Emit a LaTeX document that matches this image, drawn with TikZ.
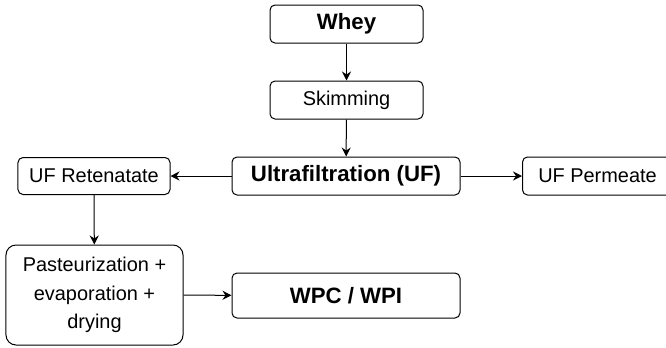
\documentclass[tikz,border=0pt]{standalone}
\usepackage{fontspec}
\setmainfont{Liberation Sans}
\usetikzlibrary{arrows.meta}
\tikzset{
  stepbox/.style={draw=black, line width=1bp, rounded corners=5bp, align=center,
    inner sep=0pt, fill=white},
  plain/.style={font=\fontsize{20}{24}\selectfont},
  strong/.style={font=\fontsize{22.3}{27}\selectfont\bfseries},
  flow/.style={draw=black, line width=1bp,
    -{Stealth[length=9bp,width=9bp,inset=3bp]}},
}
\begin{document}
\begin{tikzpicture}[x=1bp,y=-1bp]
\useasboundingbox (0,0) rectangle (666,347);
\clip (0,0) rectangle (666,347);
\node[stepbox, strong, minimum width=153bp, minimum height=38bp] (whey) at (346.5,24) {Whey};
\node[stepbox, plain, minimum width=153bp, minimum height=38bp] (skim) at (346.5,100) {Skimming};
\node[stepbox, strong, minimum width=228bp, minimum height=38bp] (uf) at (346,176) {Ultrafiltration (UF)};
\node[stepbox, plain, minimum width=152bp, minimum height=37bp] (ret) at (94,176) {UF Retenatate};
\node[stepbox, plain, minimum width=150bp, minimum height=38bp, anchor=west] (perm) at (522,176) {UF Permeate};
\node[stepbox, font=\fontsize{20}{28.5}\selectfont, rounded corners=10bp, minimum width=177bp, minimum height=100bp] (past) at (94.5,295) {Pasteurization +\\evaporation +\\drying};
\node[stepbox, strong, minimum width=228bp, minimum height=45bp] (wpc) at (346,295.5) {WPC / WPI};
\draw[flow] (whey) -- (skim);
\draw[flow] (skim) -- (uf);
\draw[flow] (uf) -- (ret);
\draw[flow] (uf) -- (perm);
\draw[flow] (ret) -- (past);
\draw[flow] (past) -- (wpc);
\end{tikzpicture}
\end{document}
